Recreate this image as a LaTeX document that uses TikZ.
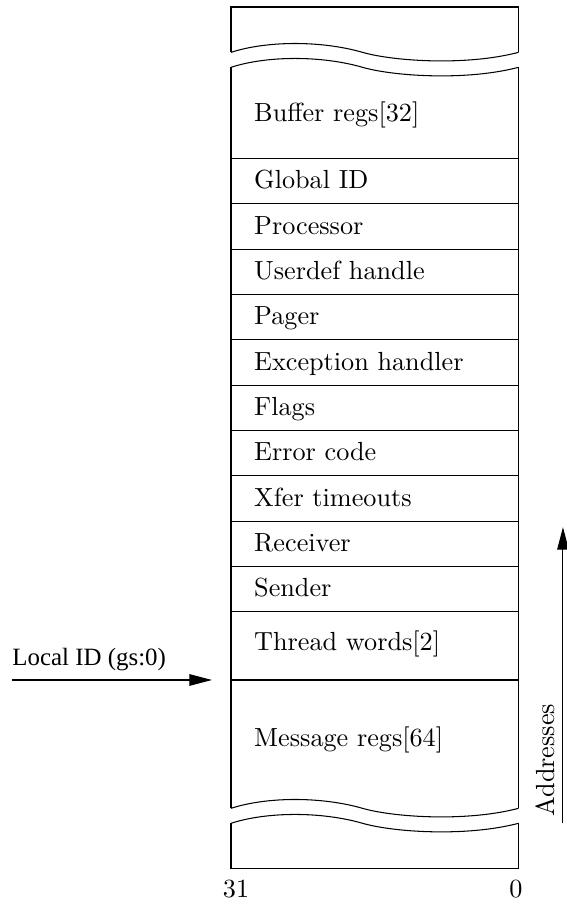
\documentclass[tikz,border=0pt]{standalone}
\usepackage{fontspec}
\usepackage{tikz}
\usetikzlibrary{arrows.meta}
\newfontfamily\lidfont{Liberation Serif}

\begin{document}
\begin{tikzpicture}[x = 17.31pt, y = 17.31pt]
\useasboundingbox (-5.094,0.154) rectangle (7.387,-19.868);
% top piece
\draw (0,-1) -- (0,0) -- (6.34,0) -- (6.34,-1);
\draw (0,-1) .. controls (0.8,-0.74) and (2.0,-0.74) .. (2.9,-1) .. controls (3.6,-1.2) and (5.2,-1.3) .. (6.34,-1);
% main piece
\draw (0,-1.33) .. controls (0.8,-1.07) and (2.0,-1.07) .. (2.9,-1.33) .. controls (3.6,-1.53) and (5.2,-1.63) .. (6.34,-1.33);
\draw (0,-1.33) -- (0,-17.67);
\draw (6.34,-1.33) -- (6.34,-17.67);
\draw (0,-3.34) -- (6.34,-3.34);
\draw (0,-4.34) -- (6.34,-4.34);
\draw (0,-5.34) -- (6.34,-5.34);
\draw (0,-6.34) -- (6.34,-6.34);
\draw (0,-7.34) -- (6.34,-7.34);
\draw (0,-8.34) -- (6.34,-8.34);
\draw (0,-9.34) -- (6.34,-9.34);
\draw (0,-10.34) -- (6.34,-10.34);
\draw (0,-11.34) -- (6.34,-11.34);
\draw (0,-12.34) -- (6.34,-12.34);
\draw (0,-13.34) -- (6.34,-13.34);
\draw (0,-14.84) -- (6.34,-14.84);
\draw (0,-17.67) .. controls (0.8,-17.41) and (2.0,-17.41) .. (2.9,-17.67) .. controls (3.6,-17.87) and (5.2,-17.97) .. (6.34,-17.67);
% bottom piece
\draw (0,-18) .. controls (0.8,-17.74) and (2.0,-17.74) .. (2.9,-18) .. controls (3.6,-18.2) and (5.2,-18.3) .. (6.34,-18);
\draw (0,-18) -- (0,-19) -- (6.34,-19) -- (6.34,-18);
% fields
\node (bufregs) at (0.5,-2.53) [anchor = base west, inner sep = 0] {Buffer regs[32]};
\node (globid) at (0.5,-4.01) [anchor = base west, inner sep = 0] {Global ID};
\node (proc) at (0.5,-5.01) [anchor = base west, inner sep = 0] {Processor};
\node (udh) at (0.5,-6.01) [anchor = base west, inner sep = 0] {Userdef handle};
\node (pager) at (0.5,-7.01) [anchor = base west, inner sep = 0] {Pager};
\node (exch) at (0.5,-8.01) [anchor = base west, inner sep = 0] {Exception handler};
\node (flags) at (0.5,-9.01) [anchor = base west, inner sep = 0] {Flags};
\node (errcode) at (0.5,-10.01) [anchor = base west, inner sep = 0] {Error code};
\node (xfer) at (0.5,-11.01) [anchor = base west, inner sep = 0] {Xfer timeouts};
\node (recv) at (0.5,-12.01) [anchor = base west, inner sep = 0] {Receiver};
\node (sender) at (0.5,-13.01) [anchor = base west, inner sep = 0] {Sender};
\node (thwords) at (0.5,-14.19) [anchor = base west, inner sep = 0] {Thread words[2]};
\node (msgregs) at (0.5,-16.31) [anchor = base west, inner sep = 0] {Message regs[64]};
% bit numbers
\node (bit31) at (0.11,-19.25) [anchor = north, inner sep = 0] {31};
\node (bit0) at (6.28,-19.25) [anchor = north, inner sep = 0] {0};
% local id
\coordinate (lidfrom) at (-4.83,-14.84);
\coordinate (lidto) at (-0.42,-14.84);
\draw [-{Triangle[length = 8.6pt, width = 4.4pt]}] (lidfrom) -- (lidto);
\node (localid) at (-4.83,-14.51) [anchor = base west, inner sep = 0] {\lidfont\fontsize{9.5}{11}\selectfont Local ID (gs:0)};
% addresses
\coordinate (addrfoot) at (7.32,-18);
\coordinate (addrtip) at (7.32,-11.47);
\draw [-{Triangle[length = 8.6pt, width = 4.4pt]}] (addrfoot) -- (addrtip);
\node (addr) at (7.14,-17.86) [anchor = base west, rotate = 90, inner sep = 0] {Addresses};
\end{tikzpicture}
\end{document}
